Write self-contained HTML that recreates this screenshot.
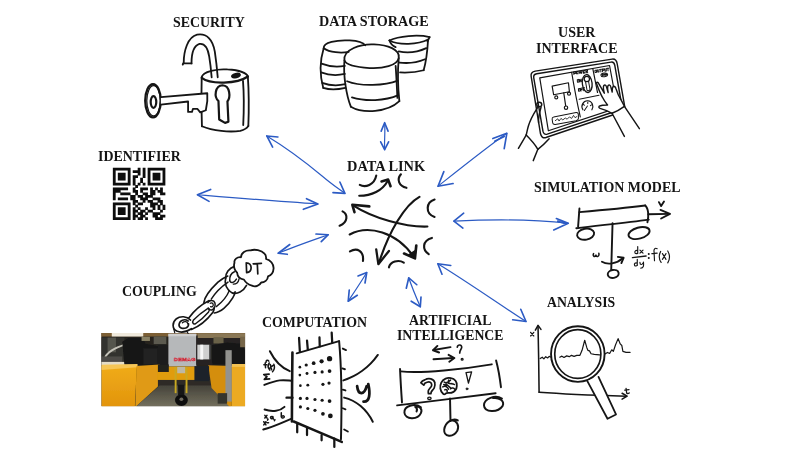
<!DOCTYPE html>
<html><head><meta charset="utf-8">
<style>
html,body{margin:0;padding:0;background:#fff;}
body{width:800px;height:453px;position:relative;overflow:hidden;font-family:"Liberation Serif",serif;}
.t{position:absolute;font-weight:bold;font-size:14.6px;line-height:15.6px;color:#141414;white-space:nowrap;text-align:center;transform-origin:0 0;}
svg{position:absolute;left:0;top:0;filter:blur(0.3px);}
.t{filter:blur(0.25px);}
</style></head><body>
<div class="t" style="left:172.5px;top:14.5px;transform:scaleX(0.95)">SECURITY</div>
<div class="t" style="left:319.3px;top:13.5px;transform:scaleX(0.97)">DATA STORAGE</div>
<div class="t" style="left:535.5px;top:25px;transform:scaleX(0.96)">USER<br>INTERFACE</div>
<div class="t" style="left:98.3px;top:148.5px;transform:scaleX(0.955)">IDENTIFIER</div>
<div class="t" style="left:347px;top:159px;transform:scaleX(0.985)">DATA LINK</div>
<div class="t" style="left:534px;top:180px;transform:scaleX(0.955)">SIMULATION MODEL</div>
<div class="t" style="left:547px;top:295px;transform:scaleX(0.94)">ANALYSIS</div>
<div class="t" style="left:397px;top:312.5px;transform:scaleX(0.945)">ARTIFICIAL<br>INTELLIGENCE</div>
<div class="t" style="left:122.3px;top:283.7px;transform:scaleX(0.95)">COUPLING</div>
<div class="t" style="left:261.5px;top:315px;transform:scaleX(0.95)">COMPUTATION</div>
<svg width="800" height="453" viewBox="0 0 800 453" fill="none" stroke="#151515" stroke-width="1.4" stroke-linecap="round" stroke-linejoin="round">
<defs>
<filter id="pb" x="-2%" y="-2%" width="104%" height="104%"><feGaussianBlur stdDeviation="2"/></filter>
<clipPath id="pc"><rect x="30" y="38" width="686" height="350"/></clipPath>
<linearGradient id="yl" x1="0" y1="0" x2="0" y2="1"><stop offset="0" stop-color="#f0ac1a"/><stop offset="1" stop-color="#e2940c"/></linearGradient>
<linearGradient id="fl" x1="0" y1="0" x2="0" y2="1"><stop offset="0" stop-color="#45433a"/><stop offset="1" stop-color="#75715f"/></linearGradient>
<filter id="pb2"><feGaussianBlur stdDeviation="0.8"/></filter>
</defs>
<g transform="translate(95,325) scale(0.2097)" stroke="none">
<g clip-path="url(#pc)">
<rect x="30" y="38" width="686" height="350" fill="#2c2925"/>
<g filter="url(#pb)">
<rect x="20" y="30" width="700" height="26" fill="#7c5e34"/>
<rect x="80" y="34" width="150" height="22" fill="#efe9dc"/>
<rect x="30" y="56" width="686" height="144" fill="#26241f"/>
<!-- left cables -->
<rect x="30" y="60" width="110" height="125" fill="#33322e"/>
<rect x="60" y="60" width="40" height="70" fill="#55544e"/>
<path d="M50,150 C70,118 110,104 170,84" stroke="#c4c2b8" stroke-width="9" fill="none"/>
<rect x="30" y="150" width="100" height="30" fill="#4e4c46"/>
<rect x="30" y="176" width="175" height="16" fill="#e4dcc6"/>
<!-- left motor -->
<path d="M130,80 L160,62 L230,62 L240,90 L300,100 L300,190 L140,190 Z" fill="#161616"/>
<rect x="230" y="110" width="75" height="78" fill="#202020"/>
<rect x="280" y="55" width="60" height="36" fill="#5c5a50"/>
<rect x="222" y="56" width="40" height="20" fill="#8a8266"/>
<rect x="300" y="95" width="50" height="100" fill="#1c1c1c"/>
<!-- center hoist -->
<rect x="350" y="42" width="133" height="156" fill="#b6b8ba"/>
<rect x="350" y="42" width="133" height="12" fill="#cfcfcf"/>
<!-- right side -->
<rect x="483" y="50" width="235" height="140" fill="#262422"/>
<rect x="490" y="40" width="226" height="22" fill="#8a7856"/>
<rect x="565" y="58" width="48" height="30" fill="#6a6248"/>
<rect x="488" y="94" width="58" height="70" fill="#cfcfcf"/>
<rect x="502" y="94" width="14" height="70" fill="#f6f6f6"/>
<rect x="546" y="94" width="10" height="70" fill="#3a3a3a"/>
<path d="M556,96 L630,84 L700,90 L716,120 L716,188 L560,188 L556,160 Z" fill="#181818"/>
<rect x="692" y="56" width="30" height="50" fill="#766648"/>
<!-- yellow beams -->
<path d="M30,196 L200,192 L190,392 L30,392 Z" fill="url(#yl)"/>
<path d="M30,190 L202,186 L202,202 L30,214 Z" fill="#f6c656"/>
<path d="M198,196 L308,188 L308,286 L192,392 Z" fill="#e09a12"/>
<rect x="300" y="198" width="180" height="66" fill="#e09c10"/>
<rect x="300" y="262" width="262" height="40" fill="#2e2c26"/>
<path d="M192,392 L308,288 L562,288 L650,392 Z" fill="url(#fl)"/>
<path d="M540,192 L652,196 L652,392 L644,392 L556,300 Z" fill="#d48e0e"/>
<path d="M652,192 L718,192 L718,392 L652,392 Z" fill="#ecaa20"/>
<rect x="652" y="186" width="66" height="14" fill="#f4c252"/>
<!-- under hoist dark -->
<rect x="474" y="196" width="70" height="72" fill="#1e242c"/>
<rect x="300" y="188" width="52" height="36" fill="#24201c"/>
<!-- hook block -->
<rect x="380" y="200" width="9" height="125" fill="#c8a820"/>
<rect x="432" y="200" width="9" height="125" fill="#c8a820"/>
<rect x="392" y="200" width="38" height="30" fill="#bdb8a6"/>
<rect x="396" y="285" width="30" height="50" fill="#181818"/>
<ellipse cx="412" cy="358" rx="31" ry="28" fill="#101010"/>
<ellipse cx="412" cy="354" rx="9" ry="8" fill="#706c60"/>
<!-- post -->
<rect x="622" y="120" width="30" height="245" fill="#92928e"/>
<rect x="585" y="325" width="45" height="50" fill="#34342f"/>
</g>
<text x="376" y="171" font-family="Liberation Sans, sans-serif" font-weight="bold" font-size="21" textLength="103" lengthAdjust="spacingAndGlyphs" fill="#f0d0d0" stroke="#cc2a3a" stroke-width="2.2" filter="url(#pb2)">DEMAG</text>
</g>
</g>

<g stroke="#2c5bc4" stroke-width="1.5">
<!-- security -->
<g transform="translate(190,110) scale(0.2648)" stroke-width="5.6">
<path d="M290,98 C360,140 440,200 500,250 C535,280 565,300 585,315" stroke-width="4.53"/>
<path d="M332,102 L290,98 L312,140" stroke-width="6.23"/>
<path d="M566,272 L585,315 L540,312" stroke-width="6.23"/>
<!-- identifier -->
<path d="M28,320 C150,330 330,345 483,355" stroke-width="4.53"/>
<path d="M78,300 L28,320 L72,345" stroke-width="6.23"/>
<path d="M440,335 L483,355 L428,375" stroke-width="6.23"/>
<!-- storage -->
<path d="M735,48 C738,80 733,120 735,150" stroke-width="4.53"/>
<path d="M722,80 L735,48 L748,80" stroke-width="6.23"/>
<path d="M720,120 L735,150 L750,120" stroke-width="6.23"/>
</g>
<g transform="translate(420,120) scale(0.2648)" stroke-width="5.6">
<!-- UI -->
<path d="M328,50 C250,105 150,185 68,250" stroke-width="4.53"/>
<path d="M275,70 L328,50 L318,108 M282,80 L318,62" stroke-width="6.23"/>
<path d="M90,195 L68,250 L125,240" stroke-width="6.23"/>
<!-- sim -->
<path d="M128,382 C250,376 400,372 560,390" stroke-width="4.53"/>
<path d="M165,352 L128,382 L162,408" stroke-width="6.23"/>
<path d="M515,372 L560,390 L505,415 M520,382 L550,392" stroke-width="6.23"/>
</g>
<g transform="translate(260,220) scale(0.35)" stroke-width="4.2">
<!-- coupling -->
<path d="M52,95 C100,75 150,58 195,42" stroke-width="3.43"/>
<path d="M85,70 L52,95 L78,98" stroke-width="4.71"/>
<path d="M160,40 L195,42 L175,62" stroke-width="4.71"/>
<!-- computation -->
<path d="M252,232 C270,205 290,175 305,150" stroke-width="3.43"/>
<path d="M255,200 L252,232 L278,215" stroke-width="4.71"/>
<path d="M280,160 L305,150 L300,180" stroke-width="4.71"/>
<!-- AI -->
<path d="M425,165 C435,195 448,225 458,248" stroke-width="3.43"/>
<path d="M418,195 L425,165 L448,185" stroke-width="4.71"/>
<path d="M432,232 L458,248 L460,220" stroke-width="4.71"/>
<!-- analysis -->
<path d="M508,125 C590,175 690,245 760,290" stroke-width="3.43"/>
<path d="M545,130 L508,125 L520,155" stroke-width="4.71"/>
<path d="M745,255 L760,290 L722,285" stroke-width="4.71"/>
</g>
</g>

<g transform="translate(140,25) scale(0.2429)" stroke-width="7.5">
<!-- shackle -->
<path d="M176,163 L180,155 C180,110 195,50 235,40 C275,33 300,60 308,110 C314,150 318,190 320,215"/>
<path d="M212,158 C212,120 222,85 245,78 C268,75 280,100 285,130 C290,160 293,190 295,215"/>
<path d="M178,158 L212,158"/>
<!-- body -->
<path d="M254,215 C258,190 320,180 360,183 C400,185 438,195 444,212"/>
<path d="M254,218 C290,246 400,243 444,212" stroke-width="9"/>
<path d="M254,215 C252,280 252,350 255,417"/>
<path d="M255,417 C300,437 370,442 413,436 C428,432 440,425 446,416"/>
<path d="M444,212 C448,270 449,340 446,416"/>
<path d="M424,230 C428,280 428,350 425,412"/>
<ellipse cx="395" cy="208" rx="17" ry="7.5" fill="#151515" transform="rotate(-15 395 208)"/>
<!-- keyhole -->
<path d="M323,313 C304,296 308,250 340,248 C372,250 373,298 360,315 L364,398 L350,403 L326,389 Z" stroke-width="9"/>
<!-- key -->
<ellipse cx="53.5" cy="312" rx="32" ry="68" stroke-width="9.5"/>
<ellipse cx="56" cy="312" rx="28" ry="62" stroke-width="5"/>
<ellipse cx="55.5" cy="317" rx="11.5" ry="24" stroke-width="9"/>
<path fill="#fff" d="M86,297 L277,281 L277,313 L271,351 L248,360 L236,345 L218,345 L214,358 L198,358 L198,315 L86,328"/>
</g>

<g transform="translate(310,25) scale(0.2207)" stroke-width="8.07">
<!-- center -->
<path d="M156,160 C150,110 230,85 290,88 C350,90 410,110 402,150 C395,185 330,198 270,195 C210,192 165,185 156,160 Z"/>
<path d="M156,160 C150,230 165,320 185,370"/>
<path d="M402,150 C395,230 400,300 405,345"/>
<path d="M185,370 C240,402 350,397 405,345"/>
<path d="M168,255 C230,280 340,275 398,252"/>
<path d="M190,328 C250,347 340,345 400,318"/>
<path d="M388,185 C392,240 394,290 396,330"/>
<!-- left -->
<path d="M62,105 C60,80 120,66 180,70 C215,72 240,78 250,92"/>
<path d="M62,105 C90,125 140,128 175,122"/>
<path d="M62,105 C45,160 45,230 60,285"/>
<path d="M60,285 C90,295 130,292 160,285"/>
<path d="M52,175 C90,190 130,190 158,185"/>
<path d="M50,215 C90,230 130,228 158,222"/>
<path d="M55,262 C90,275 130,275 160,268"/>
<!-- right -->
<path d="M360,70 C400,50 490,42 542,55"/>
<path d="M360,70 C400,92 490,90 535,66"/>
<path d="M542,55 L532,75"/>
<path d="M535,66 C532,120 525,170 515,205"/>
<path d="M408,215 C450,217 490,212 515,205"/>
<path d="M402,120 C440,128 490,122 527,105"/>
<path d="M405,170 C450,176 490,168 521,155"/>
<path d="M360,70 C365,85 375,95 388,100"/>
</g>

<g transform="translate(530,55) scale(0.1876)" stroke-width="7.62">
<!-- tablet outlines -->
<path d="M28,86 L438,22 C455,20 462,30 465,48 L505,275 C508,292 500,300 488,304 L85,440 C68,445 60,435 56,420 L6,112 C4,98 12,89 28,86 Z"/>
<path d="M36,100 L432,38 C445,36 450,44 452,55 L490,272 C492,284 486,290 476,293 L92,422 C78,426 72,418 69,406 L20,122 C18,110 24,102 36,100 Z"/>
<path d="M52,122 L424,56 L466,282 L98,404 Z" stroke-width="6.28"/>
<!-- dividers -->
<path d="M222,92 C235,170 250,250 268,330" stroke-width="6.28"/>
<path d="M335,74 C342,110 350,150 360,200" stroke-width="6.28"/>
<path d="M262,236 L368,214" stroke-width="5.38"/>
<!-- crane widget -->
<path d="M118,166 L205,148 L210,196 L126,212 Z" stroke-width="6.28"/>
<path d="M180,202 L190,270" stroke-width="6.28"/>
<circle cx="140" cy="226" r="8" stroke-width="6.28"/>
<circle cx="208" cy="206" r="8" stroke-width="6.28"/>
<circle cx="192" cy="281" r="9" stroke-width="6.28"/>
<!-- wave panel -->
<path d="M126,330 L246,306 C255,305 258,312 258,320 L258,338 C258,345 252,348 245,350 L135,370 C125,371 120,365 120,356 L118,342 C117,334 120,331 126,330 Z" stroke-width="5.38"/>
<path d="M135,350 L148,340 L155,352 L165,338 L175,346 L188,336 L198,342 L210,330 L222,338 L232,322 L240,334 L250,328" stroke-width="4.49"/>
<!-- switch -->
<ellipse cx="305" cy="152" rx="26" ry="48" transform="rotate(-6 305 152)" stroke-width="7.18"/>
<circle cx="303" cy="128" r="14" stroke-width="6.28"/>
<path d="M296,142 L304,188 C310,192 318,190 320,184 L312,140" stroke-width="5.38"/>
<!-- text scribbles -->
<g stroke-width="5.38">
<path d="M234,104 L232,90 L242,90 L242,98 L234,98 M248,88 L256,88 L256,100 L248,100 Z M262,86 L266,99 L270,88 L274,98 L278,84 M284,84 L284,97 L292,96 M284,84 L292,83 M284,90 L290,90 M298,94 L298,80 L307,80 L306,88 L298,88 L308,95"/>
<path d="M252,132 L260,130 L261,144 L253,145 Z M266,144 L265,130 L274,143 L273,128"/>
<path d="M258,180 L266,178 L267,192 L259,193 Z M272,192 L271,177 L279,176 M272,184 L277,184 M284,190 L283,175 L291,174 M284,182 L289,182"/>
<path d="M346,82 L354,80 L355,92 L347,93 Z M360,79 L361,91 L368,90 L367,78 M372,77 L382,76 M377,77 L378,90 M387,89 L386,75 L394,74 L394,81 L387,82 M399,73 L400,86 L407,85 L406,72 M410,71 L420,70 M415,71 L416,84"/>
<ellipse cx="396" cy="106" rx="18" ry="10" transform="rotate(-8 396 106)"/>
<path d="M386,110 L385,102 L391,101 M386,106 L390,106 M394,109 L396,100 L400,108 M404,108 L403,99 L408,101 L404,103 L409,106 L404,108"/>
</g>
<!-- gauge -->
<path d="M282,292 C268,270 285,242 308,244 C332,246 342,272 330,292" stroke-width="6.28"/>
<path d="M306,272 L290,296 M284,262 L290,268 M308,250 L308,258 M328,266 L322,270" stroke-width="5.38"/>
</g>
<!-- right hand -->
<g transform="translate(585,70) scale(0.1545)" stroke-width="9.28">
<path fill="#fff" stroke="none" d="M74,86 C72,78 84,76 88,86 L125,150 C120,130 116,108 122,100 C128,94 136,98 138,106 L150,146 C146,126 144,108 150,100 C156,94 164,98 166,106 L176,142 C176,126 178,110 184,106 C192,104 198,112 200,120 L216,162 C230,188 244,212 255,235 L352,380 L255,430 L175,280 C148,264 124,256 102,250 C92,248 86,240 92,234 C104,228 126,226 146,226 C134,212 122,195 112,175 C98,150 86,120 74,86 Z"/>
<path d="M74,86 C72,78 84,76 88,86 L125,150 C120,130 116,108 122,100 C128,94 136,98 138,106 L150,146 C146,126 144,108 150,100 C156,94 164,98 166,106 L176,142 C176,126 178,110 184,106 C192,104 198,112 200,120 L216,162 C230,188 244,212 255,235"/>
<path d="M74,86 C86,120 98,150 112,175 C122,195 134,212 146,226 C126,226 104,228 92,234 C86,240 92,248 102,250 C124,256 148,264 175,280"/>
<path d="M175,280 C204,268 232,252 255,235"/>
<path d="M175,280 L255,430"/>
<path d="M255,235 L352,380"/>
</g>
<!-- left hand -->
<g transform="translate(505,90) scale(0.1766)" stroke-width="8.30">
<ellipse cx="194" cy="82" rx="14" ry="13"/>
<path d="M184,100 C165,130 145,160 132,205 C126,225 124,242 120,255"/>
<path d="M204,98 C196,125 188,155 190,185"/>
<path d="M120,255 C145,280 170,308 186,336"/>
<path d="M120,255 L76,330"/>
<path d="M186,336 L160,400"/>
<path d="M186,336 C210,318 232,296 250,276"/>
</g>

<defs><filter id="qb" x="-5%" y="-5%" width="110%" height="110%"><feGaussianBlur stdDeviation="0.45"/></filter></defs>
<path stroke="none" fill="#0a0a0a" filter="url(#qb)" d="M112.85,167.85h17.70v2.77h-17.70zM137.71,167.85h2.79v2.77h-2.79zM142.68,167.85h2.79v2.77h-2.79zM147.65,167.85h17.70v2.77h-17.70zM112.85,170.32h2.79v2.77h-2.79zM127.76,170.32h2.79v2.77h-2.79zM132.74,170.32h7.76v2.77h-7.76zM142.68,170.32h2.79v2.77h-2.79zM147.65,170.32h2.79v2.77h-2.79zM162.56,170.32h2.79v2.77h-2.79zM112.85,172.78h2.79v2.77h-2.79zM117.82,172.78h7.76v2.77h-7.76zM127.76,172.78h2.79v2.77h-2.79zM137.71,172.78h2.79v2.77h-2.79zM142.68,172.78h2.79v2.77h-2.79zM147.65,172.78h2.79v2.77h-2.79zM152.62,172.78h7.76v2.77h-7.76zM162.56,172.78h2.79v2.77h-2.79zM112.85,175.25h2.79v2.77h-2.79zM117.82,175.25h7.76v2.77h-7.76zM127.76,175.25h2.79v2.77h-2.79zM132.74,175.25h5.27v2.77h-5.27zM142.68,175.25h2.79v2.77h-2.79zM147.65,175.25h2.79v2.77h-2.79zM152.62,175.25h7.76v2.77h-7.76zM162.56,175.25h2.79v2.77h-2.79zM112.85,177.72h2.79v2.77h-2.79zM117.82,177.72h7.76v2.77h-7.76zM127.76,177.72h2.79v2.77h-2.79zM132.74,177.72h2.79v2.77h-2.79zM140.19,177.72h2.79v2.77h-2.79zM147.65,177.72h2.79v2.77h-2.79zM152.62,177.72h7.76v2.77h-7.76zM162.56,177.72h2.79v2.77h-2.79zM112.85,180.18h2.79v2.77h-2.79zM127.76,180.18h2.79v2.77h-2.79zM132.74,180.18h2.79v2.77h-2.79zM140.19,180.18h2.79v2.77h-2.79zM147.65,180.18h2.79v2.77h-2.79zM162.56,180.18h2.79v2.77h-2.79zM112.85,182.65h17.70v2.77h-17.70zM132.74,182.65h2.79v2.77h-2.79zM137.71,182.65h2.79v2.77h-2.79zM142.68,182.65h2.79v2.77h-2.79zM147.65,182.65h17.70v2.77h-17.70zM135.22,185.12h2.79v2.77h-2.79zM112.85,187.58h15.21v2.77h-15.21zM132.74,187.58h2.79v2.77h-2.79zM140.19,187.58h7.76v2.77h-7.76zM150.14,187.58h2.79v2.77h-2.79zM155.11,187.58h2.79v2.77h-2.79zM160.08,187.58h2.79v2.77h-2.79zM112.85,190.05h7.76v2.77h-7.76zM132.74,190.05h5.27v2.77h-5.27zM140.19,190.05h2.79v2.77h-2.79zM150.14,190.05h5.27v2.77h-5.27zM157.59,190.05h5.27v2.77h-5.27zM112.85,192.52h2.79v2.77h-2.79zM120.31,192.52h10.24v2.77h-10.24zM135.22,192.52h2.79v2.77h-2.79zM142.68,192.52h5.27v2.77h-5.27zM150.14,192.52h5.27v2.77h-5.27zM160.08,192.52h5.27v2.77h-5.27zM112.85,194.98h2.79v2.77h-2.79zM130.25,194.98h5.27v2.77h-5.27zM137.71,194.98h5.27v2.77h-5.27zM145.16,194.98h7.76v2.77h-7.76zM112.85,197.45h2.79v2.77h-2.79zM117.82,197.45h10.24v2.77h-10.24zM130.25,197.45h5.27v2.77h-5.27zM140.19,197.45h7.76v2.77h-7.76zM152.62,197.45h7.76v2.77h-7.76zM132.74,199.92h5.27v2.77h-5.27zM142.68,199.92h2.79v2.77h-2.79zM147.65,199.92h5.27v2.77h-5.27zM157.59,199.92h5.27v2.77h-5.27zM112.85,202.38h17.70v2.77h-17.70zM132.74,202.38h2.79v2.77h-2.79zM137.71,202.38h5.27v2.77h-5.27zM150.14,202.38h7.76v2.77h-7.76zM160.08,202.38h2.79v2.77h-2.79zM112.85,204.85h2.79v2.77h-2.79zM127.76,204.85h2.79v2.77h-2.79zM135.22,204.85h2.79v2.77h-2.79zM150.14,204.85h5.27v2.77h-5.27zM157.59,204.85h2.79v2.77h-2.79zM162.56,204.85h2.79v2.77h-2.79zM112.85,207.32h2.79v2.77h-2.79zM117.82,207.32h7.76v2.77h-7.76zM127.76,207.32h2.79v2.77h-2.79zM132.74,207.32h2.79v2.77h-2.79zM137.71,207.32h2.79v2.77h-2.79zM145.16,207.32h2.79v2.77h-2.79zM152.62,207.32h2.79v2.77h-2.79zM157.59,207.32h2.79v2.77h-2.79zM162.56,207.32h2.79v2.77h-2.79zM112.85,209.78h2.79v2.77h-2.79zM117.82,209.78h7.76v2.77h-7.76zM127.76,209.78h2.79v2.77h-2.79zM132.74,209.78h5.27v2.77h-5.27zM140.19,209.78h5.27v2.77h-5.27zM147.65,209.78h5.27v2.77h-5.27zM160.08,209.78h2.79v2.77h-2.79zM112.85,212.25h2.79v2.77h-2.79zM117.82,212.25h7.76v2.77h-7.76zM127.76,212.25h2.79v2.77h-2.79zM132.74,212.25h2.79v2.77h-2.79zM137.71,212.25h5.27v2.77h-5.27zM145.16,212.25h2.79v2.77h-2.79zM152.62,212.25h7.76v2.77h-7.76zM112.85,214.72h2.79v2.77h-2.79zM127.76,214.72h2.79v2.77h-2.79zM132.74,214.72h5.27v2.77h-5.27zM140.19,214.72h5.27v2.77h-5.27zM152.62,214.72h5.27v2.77h-5.27zM160.08,214.72h5.27v2.77h-5.27zM112.85,217.18h17.70v2.77h-17.70zM132.74,217.18h2.79v2.77h-2.79zM137.71,217.18h5.27v2.77h-5.27zM145.16,217.18h2.79v2.77h-2.79zM155.11,217.18h7.76v2.77h-7.76z"/>
<g transform="translate(320,165) scale(0.2652)" stroke-width="8.05">
<path d="M150,75 C170,86 205,76 212,40"/>
<path d="M148,116 C195,116 235,96 254,62"/>
<path d="M232,62 L257,55 L266,80" stroke-width="9.77"/>
<path d="M305,35 C288,55 298,80 326,86"/>
<path d="M432,130 C400,140 395,182 432,196"/>
<path d="M422,275 C385,285 385,320 410,336"/>
<path d="M85,175 C106,186 106,216 74,229"/>
<path d="M113,326 C140,310 166,325 162,362"/>
<path d="M260,386 C265,365 295,355 316,368"/>
<path d="M405,232 C320,235 200,200 126,153"/>
<path d="M130,178 L122,150 L186,156" stroke-width="9.77"/>
<path d="M112,262 C180,225 290,250 356,350"/>
<path d="M317,334 L358,352 L363,304" stroke-width="10"/>
<path d="M336,338 L357,350 L361,322 Z" stroke-width="6" fill="#151515"/>
<path d="M375,120 C320,150 260,250 222,370"/>
<path d="M212,318 L220,374 L260,324" stroke-width="8.62"/>
</g>

<g transform="translate(560,190) scale(0.2208)" stroke-width="8.62">
<path d="M88,100 C180,92 290,82 386,70"/>
<path d="M88,84 C86,110 84,140 82,166"/>
<path d="M74,173 C180,160 300,148 402,134"/>
<path d="M386,70 C402,84 402,120 396,146"/>
<path d="M400,110 L496,108"/>
<path d="M455,90 L498,108 L458,129"/>
<path d="M448,55 L458,73 L471,52"/>
<ellipse cx="116" cy="200" rx="39" ry="25" transform="rotate(-10 116 200)"/>
<ellipse cx="358" cy="195" rx="49" ry="25" transform="rotate(-15 358 195)"/>
<path d="M238,150 L232,362"/>
<ellipse cx="241" cy="380" rx="25" ry="18" transform="rotate(-10 241 380)"/>
<path d="M190,325 C215,340 255,335 286,308"/>
<path d="M262,303 L288,307 L278,331"/>
<path d="M152,288 C147,300 157,306 163,295 C166,306 179,302 176,287" stroke-width="6.90"/>
<g stroke-width="5.2" transform="translate(0,-12)">
<path d="M352,268 L352,300 M352,288 C344,282 336,290 340,298 C344,302 350,300 352,296"/>
<path d="M362,284 L376,298 M376,284 L362,298"/>
<path d="M328,318 L390,311" stroke-width="6"/>
<path d="M350,326 L350,354 M350,344 C342,338 334,346 338,354 C342,358 348,356 350,352"/>
<path d="M362,340 C362,352 372,352 376,342 M378,338 C380,355 378,366 366,366"/>
<circle cx="402" cy="302" r="2" fill="#151515"/><circle cx="402" cy="320" r="2" fill="#151515"/>
<path d="M440,278 C430,272 424,280 426,292 L428,332 M416,300 L440,298"/>
<path d="M456,290 C448,305 448,325 458,340"/>
<path d="M464,300 L480,326 M480,300 L464,326"/>
<path d="M488,288 C498,305 498,325 488,342"/>
</g>
</g>

<g transform="translate(520,310) scale(0.2652)" stroke-width="5.83">
<path d="M68,60 C70,140 71,230 72,310"/>
<path d="M58,76 L68,58 L79,73"/>
<path d="M40,84 L52,98 M52,84 L40,98" stroke-width="4.49"/>
<path d="M72,310 C180,318 300,322 400,325"/>
<path d="M385,314 L404,325 L385,336"/>
<path d="M400,296 L402,312 C403,316 408,316 412,313 M395,302 L411,300" stroke-width="4.93"/>
<!-- lens -->
<ellipse cx="218" cy="166" rx="101" ry="105" stroke-width="7.18"/>
<ellipse cx="218" cy="166" rx="87" ry="92" stroke-width="6.28"/>
<path fill="#fff" d="M254,268 L330,410 L362,394 L296,252" stroke-width="6.72"/>
<!-- signal -->
<g stroke-width="4.49">
<path d="M76,183 L84,178 L90,184 L97,176 L104,181 L110,175 L118,178"/>
<path d="M150,178 L158,174 L166,179 L176,173 L186,176 L194,171 L204,175 L214,171 L226,171 L234,152 L244,114 L252,142 L256,152 L262,154 L268,165 L280,167 L300,169"/>
<path d="M320,166 L330,160 L338,164 L346,150 L352,156 L360,132 L370,108 L378,128 L384,134 L388,156 L400,160 L415,160"/>
</g>
</g>

<g transform="translate(385,335) scale(0.2426)" stroke-width="8.05">
<path d="M270,50 L200,62"/><path d="M216,45 L198,63 L223,72"/>
<path d="M200,100 L282,95"/><path d="M262,82 L286,95 L265,110"/>
<path d="M298,50 C300,38 318,38 316,52 C314,60 308,62 308,74" stroke-width="6.90"/>
<circle cx="318" cy="100" r="2.5" fill="#151515"/>
<path d="M65,150 C150,160 330,140 440,121"/>
<path d="M62,140 C64,190 67,235 70,278"/>
<path d="M50,290 C180,275 330,255 456,240"/>
<path d="M458,105 C470,150 475,190 478,215"/>
<!-- ? -->
<path d="M148,197 C152,190 158,187 164,185 C172,180 182,179 189,181 C198,184 204,189 205,196 C207,204 206,212 203,218 C200,224 194,229 191,234 L189,242 L179,242 C178,238 178,232 179,228 C182,222 188,217 191,212 C193,208 193,203 191,199 C188,195 184,193 181,193 C175,193 169,196 164,199 L160,207 Z" stroke-width="7"/>
<ellipse cx="183" cy="261" rx="7" ry="5" stroke-width="5.5"/>
<!-- brain -->
<path d="M232,196 C240,180 258,174 272,178 C288,180 298,194 296,210 C296,224 286,236 274,238 C266,240 258,236 252,240 C248,246 240,246 238,240 C228,232 224,212 232,196 Z" stroke-width="7.5"/>
<path d="M244,194 C252,200 262,194 270,186 M238,214 C248,208 258,214 262,224 M260,198 C270,204 278,198 286,204 M252,202 L270,218 M270,222 C276,216 284,218 288,224 M242,204 L254,208 M262,186 C258,196 266,204 276,200 M246,226 C254,222 258,228 256,234" stroke-width="6"/>
<!-- ! -->
<path d="M334,155 L357,152 L344,198 Z" stroke-width="5.5"/>
<circle cx="338" cy="222" r="4" fill="#151515" stroke-width="3.5"/>
<!-- wheels -->
<path d="M148,298 C122,278 78,294 80,320 C82,348 134,352 148,322 C156,304 142,292 124,296 C130,300 134,308 130,315"/>
<path d="M482,262 C455,245 408,262 408,290 C410,320 465,322 485,292 C494,272 470,256 445,260"/>
<path d="M268,262 L270,355"/>
<path d="M300,352 C280,340 248,360 244,390 C242,420 280,425 298,395 C308,372 295,352 275,352"/>
</g>

<g transform="translate(250,330) scale(0.2652)" stroke-width="7.47">
<path d="M160,85 C159,170 158,260 158,345" stroke-width="9.77"/>
<path d="M176,88 C225,74 280,58 336,42"/>
<path d="M336,42 C346,150 346,300 343,412"/>
<path d="M165,345 C225,370 290,398 346,422" stroke-width="9.77"/>
<path stroke-width="8.5" d="M185,30 L188,82 M215,40 L218,74 M262,28 L263,62 M308,10 L310,48"/>
<path stroke-width="8.5" d="M178,356 L178,386 M215,370 L215,396 M270,396 L270,416 M318,410 L318,441"/>
<path d="M138,255 L160,255" stroke-width="9.20"/>
<path d="M350,70 L362,76 M348,145 L358,148 M350,225 L360,228 M350,295 L360,299 M355,375 L369,383" stroke-width="6.90"/>
<g fill="#151515" stroke="none">
<circle cx="188" cy="140" r="5"/><circle cx="212" cy="132" r="6"/><circle cx="240" cy="125" r="7"/><circle cx="270" cy="118" r="8"/><circle cx="300" cy="108" r="10"/>
<circle cx="188" cy="170" r="5"/><circle cx="215" cy="164" r="5.5"/><circle cx="245" cy="160" r="6"/><circle cx="272" cy="158" r="6"/><circle cx="300" cy="155" r="7"/>
<circle cx="190" cy="210" r="5"/><circle cx="218" cy="208" r="5.5"/><circle cx="275" cy="205" r="6"/><circle cx="298" cy="200" r="6"/>
<circle cx="190" cy="258" r="6"/><circle cx="215" cy="258" r="6"/><circle cx="245" cy="262" r="6"/><circle cx="272" cy="265" r="6"/><circle cx="300" cy="268" r="7"/>
<circle cx="190" cy="290" r="6"/><circle cx="218" cy="296" r="6"/><circle cx="245" cy="303" r="6"/><circle cx="275" cy="316" r="7"/><circle cx="303" cy="324" r="9"/>
</g>
<!-- left curves -->
<path d="M75,80 C95,120 125,145 150,155"/>
<path d="M54,207 C75,199 95,192 112,190 C128,188 142,190 155,191"/>
<path d="M55,300 C85,310 115,305 130,290"/>
<path d="M50,375 C90,365 130,345 155,335"/>
<g stroke-width="5.75">
<g transform="rotate(22 80 135) translate(-5,2)"><path d="M62,128 C58,120 64,116 70,120 M60,132 L68,148 M58,140 L68,136"/>
<path d="M74,126 C72,136 78,146 86,150 M80,130 L92,146 M90,130 L82,146 M92,124 C100,132 102,142 98,152"/></g>
<path d="M72,166 L52,168 L64,176 L54,186 L74,184" stroke-width="6.5"/>
<path d="M56,322 L64,332 M64,322 L56,332 M68,336 L66,340 M86,328 C80,322 74,330 80,334 C84,336 86,330 86,326 L88,336 M94,338 L92,342 M118,312 L118,328 C124,320 132,324 128,330 C124,334 120,332 118,328 M52,346 L60,358 M60,346 L52,358 M64,350 L70,350"/>
</g>
<!-- right curves -->
<path d="M352,190 C400,175 450,140 482,94"/>
<path d="M355,255 C400,265 440,300 463,346"/>
<path d="M404,212 C408,246 430,248 440,212 M446,204 C454,240 452,272 428,270" stroke-width="10.35"/>
</g>

<g transform="translate(170,262) scale(0.16772)" stroke-width="10">
<!-- ring D -->
<path d="M122,346 C100,322 62,320 36,340 C12,360 12,398 40,412 C62,422 96,418 128,398"/>
<path d="M108,352 C86,336 58,348 54,372 C52,392 74,402 98,392 C108,386 112,378 110,368"/>
<path d="M74,362 C88,350 104,356 106,368" stroke-width="8"/>
<path d="M22,398 L28,421 M100,413 L108,426" stroke-width="7"/>
<!-- link C -->
<path d="M112,334 C140,296 186,254 234,230"/>
<path d="M128,402 C176,384 224,342 256,300 C262,290 264,282 264,272"/>
<path d="M140,346 C165,320 195,296 222,279 C234,273 238,284 230,298 C205,328 175,352 152,368 C138,374 130,360 140,346 Z" stroke-width="8.5"/>
<!-- junction loop -->
<path d="M226,242 C236,224 262,226 268,244 C272,262 264,280 250,286 C238,288 230,282 228,274" stroke-width="9"/>
<path d="M240,246 C248,240 258,246 258,256 C258,266 248,270 242,266" stroke-width="7.5"/>
<!-- link B -->
<path d="M202,242 C206,204 242,162 286,120 C306,104 326,92 344,84"/>
<path d="M264,304 C300,300 344,264 374,214 C382,202 386,190 388,178"/>
<path d="M246,222 C268,186 308,146 346,120" stroke-width="8.5"/>
<path d="M276,266 C308,242 340,204 354,170" stroke-width="8.5"/>
<!-- link A -->
<path d="M332,96 C330,66 352,36 384,26"/>
<path d="M332,96 C322,130 338,166 370,184 C400,194 438,176 456,140"/>
<path d="M356,112 C354,82 366,66 384,58" stroke-width="8.5"/>
<path d="M356,112 C362,128 382,126 396,102" stroke-width="8.5"/>
<path d="M378,132 C396,132 408,118 412,100" stroke-width="8"/>
</g>
<g transform="translate(225,240) scale(0.12146)" stroke-width="15">
<path fill="#fff" d="M78,188 C72,160 100,138 132,142 C132,105 170,82 210,86 C245,72 300,85 325,112 C338,125 340,140 338,156 C375,165 402,200 400,235 C398,265 380,292 354,300 C352,330 325,350 298,350 C285,375 250,390 222,376 C195,368 170,350 156,326 C125,322 102,300 100,270 C80,255 68,220 78,188 Z"/>
<path d="M175,188 L178,268 M175,188 C228,188 228,270 178,268" stroke-width="14"/>
<path d="M232,196 L300,192 M266,195 L270,280" stroke-width="14"/>
</g>

</svg>
</body></html>
